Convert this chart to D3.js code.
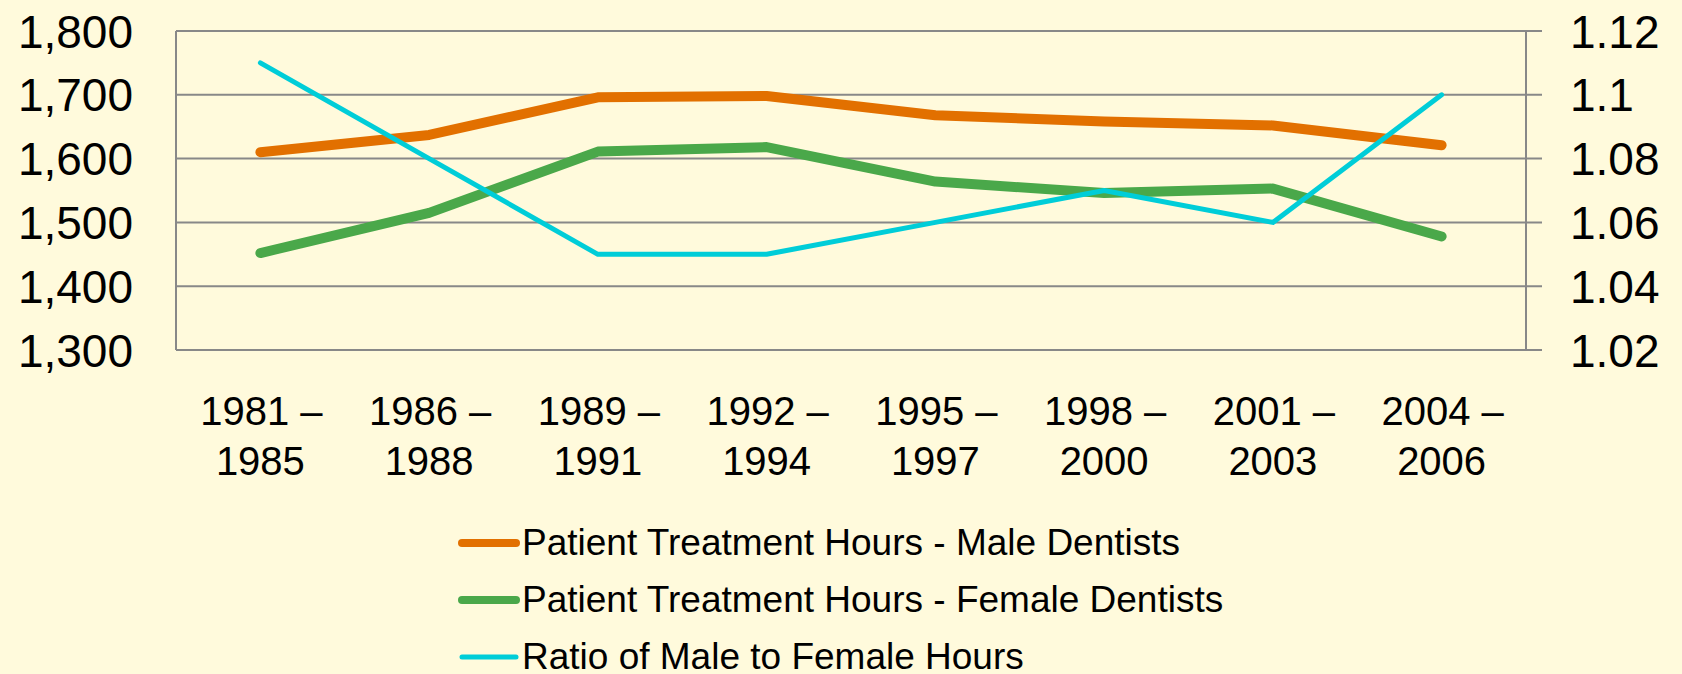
<!DOCTYPE html>
<html>
<head>
    <title>Patient Treatment Hours</title>
    <script src="https://d3js.org/d3.v7.min.js"></script>
    <style>
        body {
            margin: 0;
            padding: 0;
            background-color: #fffadc;
            font-family: 'Liberation Sans', Arial, sans-serif;
        }
        svg text {
            fill: #000;
        }
    </style>
</head>
<body>
    <svg id="chart" width="1682" height="674"></svg>

    <script>
        // data
        const periods = [["1981 –", "1985"], ["1986 –", "1988"], ["1989 –", "1991"], ["1992 –", "1994"],
                         ["1995 –", "1997"], ["1998 –", "2000"], ["2001 –", "2003"], ["2004 –", "2006"]];
        const maleHours = [1610, 1637, 1696, 1698, 1668, 1658, 1652, 1621];
        const femaleHours = [1452, 1515, 1611, 1618, 1564, 1546, 1553, 1478];
        const ratio = [1.11, 1.08, 1.05, 1.05, 1.06, 1.07, 1.06, 1.10];
        const leftTicks = [1300, 1400, 1500, 1600, 1700, 1800];
        const rightTicks = [1.02, 1.04, 1.06, 1.08, 1.1, 1.12];
        const seriesNames = ["Patient Treatment Hours - Male Dentists",
                             "Patient Treatment Hours - Female Dentists",
                             "Ratio of Male to Female Hours"];
        const colors = ["#e27000", "#4aa84a", "#00cdd8"];

        const margin = {left: 176, right: 1526, top: 31, bottom: 350};
        const svg = d3.select("#chart");

        const x = d3.scaleBand()
            .domain(d3.range(periods.length))
            .range([margin.left, margin.right]);
        const yLeft = d3.scaleLinear().domain([1300, 1800]).range([margin.bottom, margin.top]);
        const yRight = d3.scaleLinear().domain([1.02, 1.12]).range([margin.bottom, margin.top]);
        const cx = i => x(i) + x.bandwidth() / 2;

        // grid lines
        svg.append("g")
            .selectAll("line")
            .data(leftTicks)
            .join("line")
            .attr("x1", margin.left)
            .attr("x2", margin.right + 16)
            .attr("y1", d => yLeft(d))
            .attr("y2", d => yLeft(d))
            .attr("stroke", "#888")
            .attr("stroke-width", 2);

        // axis lines
        svg.append("line")
            .attr("x1", margin.left).attr("x2", margin.left)
            .attr("y1", margin.top).attr("y2", margin.bottom)
            .attr("stroke", "#888").attr("stroke-width", 2);
        svg.append("line")
            .attr("x1", margin.right).attr("x2", margin.right)
            .attr("y1", margin.top).attr("y2", margin.bottom)
            .attr("stroke", "#888").attr("stroke-width", 2);

        // left labels
        svg.append("g")
            .selectAll("text")
            .data(leftTicks)
            .join("text")
            .attr("x", 133)
            .attr("y", d => yLeft(d))
            .attr("dy", "0.36em")
            .attr("text-anchor", "end")
            .style("font-size", "46px")
            .text(d => d3.format(",")(d));

        // right labels
        svg.append("g")
            .selectAll("text")
            .data(rightTicks)
            .join("text")
            .attr("x", 1570)
            .attr("y", d => yRight(d))
            .attr("dy", "0.36em")
            .attr("text-anchor", "start")
            .style("font-size", "46px")
            .text(d => d3.format("")(+d.toFixed(2)));

        // category labels, two lines each
        const cat = svg.append("g")
            .selectAll("text")
            .data(periods)
            .join("text")
            .attr("text-anchor", "middle")
            .style("font-size", "40px");
        cat.append("tspan")
            .attr("x", (d, i) => cx(i) + 1)
            .attr("y", 425)
            .text(d => d[0]);
        cat.append("tspan")
            .attr("x", (d, i) => cx(i))
            .attr("y", 475)
            .text(d => d[1]);

        // lines
        const lineLeft = d3.line().x((d, i) => cx(i)).y(d => yLeft(d));
        const lineRight = d3.line().x((d, i) => cx(i)).y(d => yRight(d));

        svg.append("path")
            .datum(femaleHours)
            .attr("d", lineLeft)
            .attr("fill", "none")
            .attr("stroke", colors[1])
            .attr("stroke-width", 10)
            .attr("stroke-linecap", "round")
            .attr("stroke-linejoin", "round");

        svg.append("path")
            .datum(maleHours)
            .attr("d", lineLeft)
            .attr("fill", "none")
            .attr("stroke", colors[0])
            .attr("stroke-width", 10)
            .attr("stroke-linecap", "round")
            .attr("stroke-linejoin", "round");

        svg.append("path")
            .datum(ratio)
            .attr("d", lineRight)
            .attr("fill", "none")
            .attr("stroke", colors[2])
            .attr("stroke-width", 5)
            .attr("stroke-linecap", "round")
            .attr("stroke-linejoin", "round");

        // legend
        const legend = svg.append("g")
            .selectAll("g")
            .data(seriesNames)
            .join("g")
            .attr("transform", (d, i) => "translate(0," + (543 + i * 57) + ")");
        legend.append("line")
            .attr("x1", 462).attr("x2", 516)
            .attr("y1", 0).attr("y2", 0)
            .attr("stroke", (d, i) => colors[i])
            .attr("stroke-width", (d, i) => i == 2 ? 5 : 8)
            .attr("stroke-linecap", "round");
        legend.append("text")
            .attr("x", 522)
            .attr("y", 12)
            .style("font-size", "37px")
            .text(d => d);
    </script>
</body>
</html>
